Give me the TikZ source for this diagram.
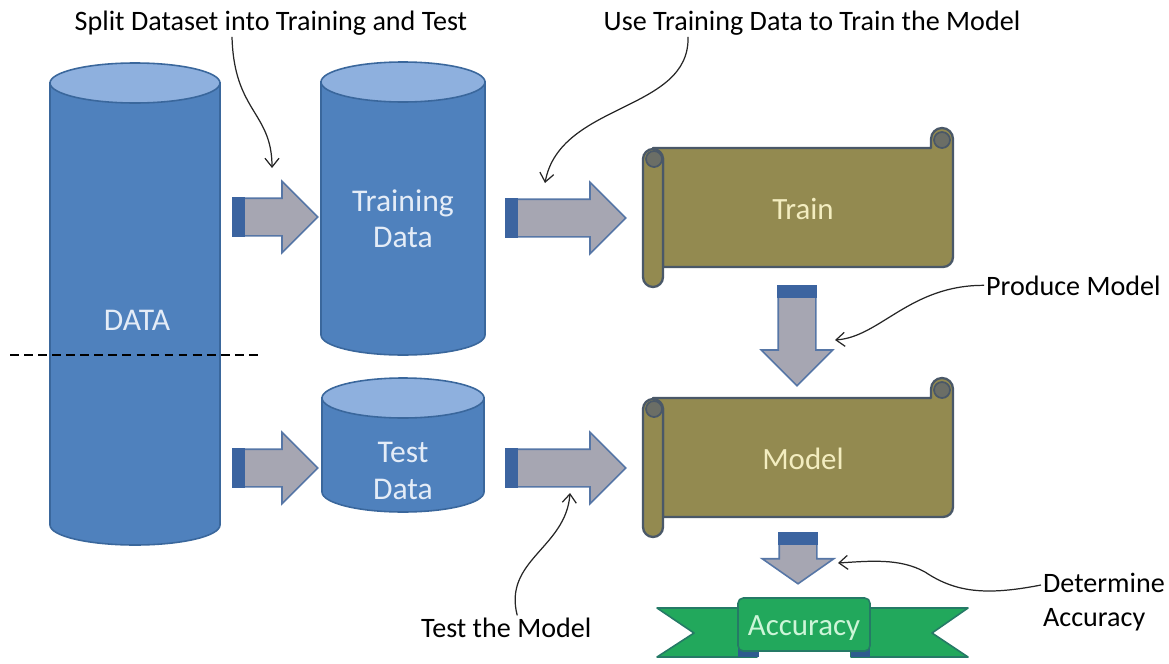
\documentclass[tikz,border=0pt]{standalone}
\usepackage{fontspec}
\setmainfont{Carlito}
\usepackage{xcolor}
\usepackage{tikz}
\usetikzlibrary{arrows.meta,shapes.arrows,positioning,calc}

\definecolor{cylbody}{HTML}{4F81BD}
\definecolor{cyllight}{HTML}{8EB0DE}
\definecolor{cylline}{HTML}{3A679C}
\definecolor{cyltext}{HTML}{E4ECF7}
\definecolor{arrfill}{HTML}{A6A6B2}
\definecolor{arrline}{HTML}{5676A6}
\definecolor{arrstub}{HTML}{3C64A0}
\definecolor{scrollfill}{HTML}{938A50}
\definecolor{scrolldark}{HTML}{6B6E66}
\definecolor{scrollline}{HTML}{4A5868}
\definecolor{scrolltext}{HTML}{F3EDC0}
\definecolor{ribbongreen}{HTML}{22A85C}
\definecolor{ribbonline}{HTML}{257A66}
\definecolor{ribbonfold}{HTML}{2E5C8E}
\definecolor{ribbontext}{HTML}{CDF5D8}

\begin{document}
\begin{tikzpicture}[x=0.02cm,y=0.02cm,
	annot/.style={font=\fontsize{16}{19.5}\selectfont, inner sep=1pt},
	notearrow/.style={-{Straight Barb[length=5pt,width=8pt]}, line width=0.7pt, black!85},
	cyllabel/.style={text=cyltext, align=center, font=\fontsize{18}{20.6}\selectfont},
	cylside/.style={fill=cylbody, draw=cylline, line width=0.9pt},
	cyltop/.style={fill=cyllight, draw=cylline, line width=0.9pt},
	blockarrow/.style={single arrow, draw=arrline, fill=arrfill, line width=0.9pt, anchor=tail,
		inner xsep=0pt, inner ysep=0.36cm, minimum width=1.4cm,
		single arrow head extend=0.34cm, single arrow head indent=0pt},
	scrollbody/.style={fill=scrollfill, draw=scrollline, line width=1.3pt, line join=round},
	scrollcurl/.style={fill=scrolldark, draw=scrollline, line width=1pt},
	scrolllabel/.style={text=scrolltext, font=\fontsize{17.6}{20}\selectfont},
	ribbonpart/.style={fill=ribbongreen, draw=ribbonline, line width=0.9pt, line join=round}]

	\useasboundingbox (0,0) rectangle (1169,-663);

	% cylinders
	\path[cylside] (50,-83) -- (50,-525) arc[start angle=180,end angle=360,x radius=85,y radius=20] -- (220,-83) -- cycle;
	\path[cyltop] (135,-83) ellipse[x radius=85,y radius=20];
	\path[cylside] (321,-82) -- (321,-335) arc[start angle=180,end angle=360,x radius=82,y radius=20] -- (485,-82) -- cycle;
	\path[cyltop] (403,-82) ellipse[x radius=82,y radius=20];
	\path[cylside] (322,-398) -- (322,-492) arc[start angle=180,end angle=360,x radius=81,y radius=20] -- (484,-398) -- cycle;
	\path[cyltop] (403,-398) ellipse[x radius=81,y radius=20];

	\node[cyllabel] (data) at (137,-320) {DATA};
	\node[cyllabel] (traindata) at (403,-219) {Training\\Data};
	\node[cyllabel] (testdata) at (403,-471) {Test\\Data};

	\draw[dashed, dash pattern=on 5pt off 3pt, line width=0.6pt] (10,-355) -- (262,-355);

	% scrolls
	\foreach \dy/\name/\txt in {0/train/Train, 250/model/Model}{
		\begin{scope}[yshift=-\dy*0.02cm]
		\path[scrollbody] (653,-148) -- (931,-148) -- (931,-139) arc[start angle=180,end angle=0,radius=11]
			-- (953,-257) arc[start angle=0,end angle=-90,radius=10] -- (663,-267) -- (663,-158) -- cycle;
		\path[scrollcurl] (942,-140) circle[radius=8];
		\path[scrollbody] (643,-159) -- (643,-277) arc[start angle=180,end angle=360,radius=10]
			-- (663,-159) arc[start angle=0,end angle=180,radius=10] -- cycle;
		\path[scrollcurl] (654,-159) circle[radius=8];
		\end{scope}
		\node[scrolllabel] (\name) at (803,-209-\dy) {\txt};
	}

	% block arrows
	\node[blockarrow, minimum height=1.7cm] (a1) at (232,-217) {};
	\node[blockarrow, minimum height=1.7cm] (a3) at (232,-468) {};
	\node[blockarrow, minimum height=2.4cm] (a2) at (505,-218) {};
	\node[blockarrow, minimum height=2.4cm] (a4) at (505,-468) {};
	\node[blockarrow, minimum height=2cm, rotate=-90] (d1) at (797,-285) {};
	\node[blockarrow, minimum height=1.02cm, rotate=-90, single arrow tip angle=110] (d2) at (798,-532) {};
	\foreach \a in {a1,a2,a3,a4,d1,d2}{
		\coordinate (s) at ($(\a.tail)!0.26cm!(\a.tip)$);
		\fill[arrstub] (\a.before tail) rectangle ($(\a.after tail)+(s)-(\a.tail)$);
	}

	% ribbon
	\path[ribbonpart] (757,-608) -- (657,-608) -- (694,-633) -- (657,-657) -- (757,-657) -- cycle;
	\path[ribbonpart] (851,-608) -- (968,-608) -- (932,-633) -- (968,-657) -- (851,-657) -- cycle;
	\fill[ribbonfold] (738,-645) rectangle (759,-657);
	\fill[ribbonfold] (851,-645) rectangle (870,-657);
	\path[ribbonpart, rounded corners=3pt] (738,-598) rectangle (870,-651);
	\node[text=ribbontext, font=\fontsize{17.6}{20}\selectfont] (accuracy) at (804,-628) {Accuracy};

	% notes
	\node[annot, anchor=base] (split) at (271,-30) {Split Dataset into Training and Test};
	\node[annot, anchor=base] (usetrain) at (812,-30) {Use Training Data to Train the Model};
	\node[annot, anchor=base west] (produce) at (984,-295) {Produce Model};
	\node[annot, anchor=west, align=left] (determine) at (1041,-602) {Determine\\Accuracy};
	\node[annot, anchor=base west] (testmodel) at (419,-637) {Test the Model};

	\coordinate (p1) at (272,-168);
	\coordinate (p2) at (545,-183);
	\coordinate (p3) at (835,-340);
	\coordinate (p4) at (838,-563);
	\coordinate (p5) at (570,-493);

	\draw[notearrow] ([xshift=-0.78cm]split.south) .. controls (234,-112) and (272,-112) .. (p1);
	\draw[notearrow] ([xshift=-2.48cm]usetrain.south) .. controls (690,-112) and (560,-102) .. (p2);
	\draw[notearrow] (produce.west) .. controls (910,-285) and (880,-337) .. (p3);
	\draw[notearrow] ([yshift=0.34cm]determine.west) .. controls (985,-596) and (955,-592) .. (925,-572)
		.. controls (900,-558) and (870,-561) .. (p4);
	\draw[notearrow] ([xshift=0.22cm]testmodel.north) .. controls (503,-560) and (566,-548) .. (p5);

\end{tikzpicture}
\end{document}
